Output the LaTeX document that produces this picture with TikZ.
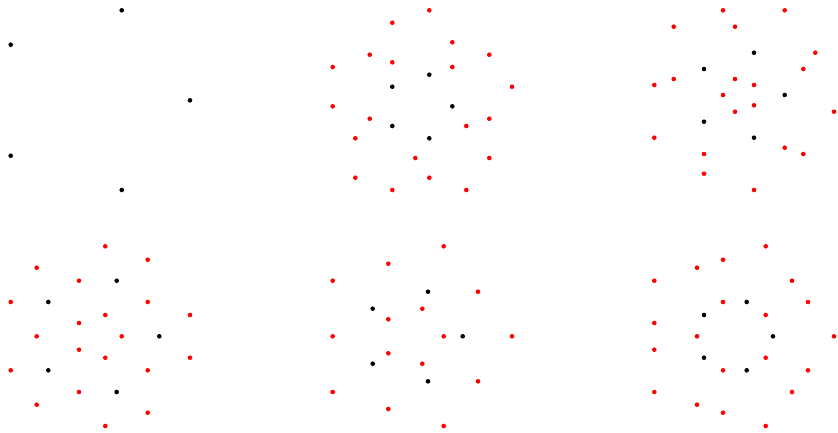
\documentclass[tikz,border=0pt]{standalone}
\usepackage{xcolor}
\usepackage{tikz}
\definecolor{dotred}{RGB}{255, 0, 0}
\definecolor{dotblack}{RGB}{0, 0, 0}

\begin{document}
\begin{tikzpicture}[x=1pt, y=-1pt]
    % Fix the page to the reference size (pixel units, y downwards)
    \useasboundingbox (0,0) rectangle (838,432);

    % Panel 1: the five base points
    \foreach \x/\y in {121.7/10.3, 10.7/44.7, 190/100.3, 10.7/155.7, 121.7/190} {
        \fill[dotblack] (\x,\y) circle (2.3pt);
    }

    % Panel 2: red images around the inner pentagon
    \foreach \x/\y in {429.3/10.3, 392.3/22.7, 452.3/42.3, 369.7/54.7, 489.3/54.7,
                       392.3/62.3, 332.7/67, 452.3/67, 512/86.7, 332.7/106.3,
                       369.7/118.7, 489.3/118.7, 466.3/126, 355.3/138.3, 415.3/158,
                       489.3/158, 355.3/177.7, 429.3/177.7, 392.3/190, 466.3/190} {
        \fill[dotred] (\x,\y) circle (2.3pt);
    }
    \foreach \x/\y in {429.3/74.7, 392.3/86.7, 452.3/106.3, 392.3/126, 429.3/138.3} {
        \fill[dotblack] (\x,\y) circle (2.3pt);
    }

    % Panel 3
    \foreach \x/\y in {723/10.3, 784.7/10.3, 673.7/26.7, 735/26.7, 815.3/52.7,
                       803.3/69, 673.7/79, 735/79, 654.3/85, 754/85,
                       723/95, 754/105.3, 735/111.7, 834/111.7, 654.3/137.7,
                       784.7/147.7, 803.3/154, 704/154, 704/173.7, 754/190} {
        \fill[dotred] (\x,\y) circle (2.3pt);
    }
    \foreach \x/\y in {754/52.7, 704/69, 784.7/95, 704/121.7, 754/137.7} {
        \fill[dotblack] (\x,\y) circle (2.3pt);
    }

    % Panel 4
    \foreach \x/\y in {105.3/246.3, 147.7/259.7, 36.7/267.7, 79/280.7, 10.7/302,
                       147.7/302, 105.3/315, 190/315, 79/323, 36.7/336.3,
                       121.7/336.3, 79/349.7, 105.3/357.7, 190/357.7, 10.7/370.3,
                       147.7/370.3, 79/392, 36.7/404.7, 147.7/412.7, 105.3/426} {
        \fill[dotred] (\x,\y) circle (2.3pt);
    }
    \foreach \x/\y in {116.7/280.7, 48.3/302, 159.3/336.3, 48.3/370.3, 116.7/392} {
        \fill[dotblack] (\x,\y) circle (2.3pt);
    }

    % Panel 5
    \foreach \x/\y in {443.7/246.3, 388.3/263.7, 332.7/280.7, 478/291.7, 422.3/308.7,
                       388.3/319.3, 332.7/336.3, 443.7/336.3, 512/336.3, 388.3/353.3,
                       422.3/363.7, 478/381.3, 332.7/392, 388.3/409, 443.7/426} {
        \fill[dotred] (\x,\y) circle (2.3pt);
    }
    \foreach \x/\y in {428/291.7, 372.7/308.7, 462.7/336.3, 372.7/363.7, 428/381.3} {
        \fill[dotblack] (\x,\y) circle (2.3pt);
    }

    % Panel 6
    \foreach \x/\y in {765.7/246.3, 723/259.7, 697/267.7, 654.3/280.7, 792/280.7,
                       723/302, 808/302, 765.7/315, 654.3/323, 697/336.3,
                       834/336.3, 654.3/349.7, 765.7/357.7, 723/370.3, 808/370.3,
                       654.3/392, 792/392, 697/404.7, 723/412.7, 765.7/426} {
        \fill[dotred] (\x,\y) circle (2.3pt);
    }
    \foreach \x/\y in {746.7/302, 704/315, 773/336.3, 704/357.7, 746.7/370.3} {
        \fill[dotblack] (\x,\y) circle (2.3pt);
    }
\end{tikzpicture}
\end{document}
